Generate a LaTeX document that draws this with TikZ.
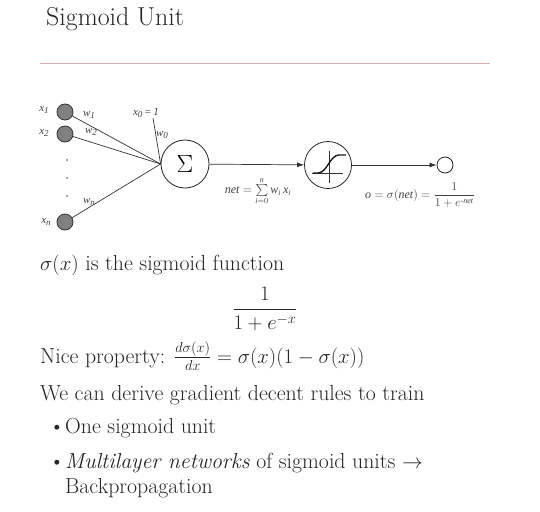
\documentclass[tikz,border=0pt]{standalone}
\usepackage{amsmath}
\usepackage{fontspec}
\newfontfamily\dfont{Liberation Serif}
\usetikzlibrary{arrows.meta}
\newcommand{\dt}[1]{\text{\dfont\itshape #1}}
\newcommand{\lbsub}[2]{{\dfont\itshape #1\raisebox{-0.45ex}{\fontsize{9}{10}\selectfont #2}}}
\begin{document}
\begin{tikzpicture}[x=1pt,y=-1pt,
  inp/.style={circle,draw=black!80,fill=black!50,minimum size=16pt,inner sep=0pt,line width=0.8pt},
  unit/.style={circle,draw=black!85,fill=white,inner sep=0pt,line width=0.8pt},
  conn/.style={draw=black!80,line width=0.7pt},
  arr/.style={conn,-{Latex[length=7pt,width=5pt]}},
  lab/.style={inner sep=0pt,font=\dfont\itshape\fontsize{11}{12}\selectfont,text=black!75},
  body/.style={anchor=base west,inner sep=0pt,font=\fontsize{21.8}{26}\selectfont,text=black!85}]
\useasboundingbox (0,0) rectangle (540,511);
% title
\node[anchor=base west,inner sep=0pt,font=\fontsize{25.9}{30}\selectfont,text=black!85] (title) at (46,26) {Sigmoid Unit};
\draw[draw={rgb,255:red,205;green,175;blue,175},line width=0.6pt] (40,63) coordinate (r1) -- (490,63) coordinate (r2);
% units
\node[inp] (x1) at (65,112) {};
\node[inp] (x2) at (65,134) {};
\node[inp] (xn) at (65,222) {};
\node[unit,minimum size=48pt] (sum) at (185,164) {\fontsize{31}{31}\selectfont$\Sigma$};
\node[unit,minimum size=47pt] (sig) at (328,165) {};
\node[unit,minimum size=16pt] (out) at (445,165) {};
\coordinate (x0) at (153,118);
% dots
\foreach \yy/\nm in {160/d1,178/d2,196/d3} \fill[black!70] (67,\yy) circle (0.8) coordinate (\nm);
% connectors
\draw[conn] (x1) -- (sum.west);
\draw[conn] (x2) -- (sum.west);
\draw[conn] (xn) -- (sum.west);
\draw[conn] (x0) -- (sum.west);
\draw[arr] (sum) -- (sig);
\draw[arr] (sig) -- (out);
% sigmoid glyph
\draw[black!80,line width=0.6pt] (312,173) -- (343,173);
\draw[black!80,line width=0.6pt] (329,151) -- (329,183);
\draw[black!90,line width=1.4pt] (313,173) -- (318,173) .. controls (327,173) and (330,155) .. (339,155) -- (346,155);
% labels
\node[lab] (lx1) at (44,110) {\lbsub{x}{1}};
\node[lab] (lx2) at (44,133) {\lbsub{x}{2}};
\node[lab] (lxn) at (46,222) {\lbsub{x}{n}};
\node[lab] (lw1) at (89,115) {\lbsub{w}{1}};
\node[lab] (lw2) at (91,132) {\lbsub{w}{2}};
\node[lab] (lwn) at (89,202) {\lbsub{w}{n}};
\node[lab] (lw0) at (162,135) {\lbsub{w}{0}};
\node[lab] (lx0) at (146,113) {\lbsub{x}{0}\,=\,1};
\node[lab,font=\fontsize{12}{13}\selectfont] (lnet) at (258,191) {$\dt{net} = \sum\limits_{\dt{i}=0}^{\dt{n}} \dt{w}_{\dt{i}}\, \dt{x}_{\dt{i}}$};
\node[lab,font=\fontsize{12}{13}\selectfont] (lout) at (420,195) {$\dt{o} = \sigma(\dt{net}) = \dfrac{1}{1+e^{\dt{-net}}}$};
% body text
\node[body] (t1) at (40,270) {$\sigma(x)$ is the sigmoid function};
\node[inner sep=0pt,font=\fontsize{21.8}{26}\selectfont,text=black!85] (frac) at (265,309) {$\displaystyle\frac{1}{1+e^{-x}}$};
\node[body] (t2) at (40,363) {Nice property: $\frac{d\sigma(x)}{dx} = \sigma(x)(1-\sigma(x))$};
\node[body] (t3) at (40,400) {We can derive gradient decent rules to train};
\node[body] (b1) at (49,433) {\textbullet};
\node[body] (t4) at (65,433) {One sigmoid unit};
\node[body] (b2) at (49,468) {\textbullet};
\node[body] (t5) at (65,468) {\textit{Multilayer networks} of sigmoid units $\rightarrow$};
\node[body] (t6) at (65,493) {Backpropagation};
\end{tikzpicture}
\end{document}
